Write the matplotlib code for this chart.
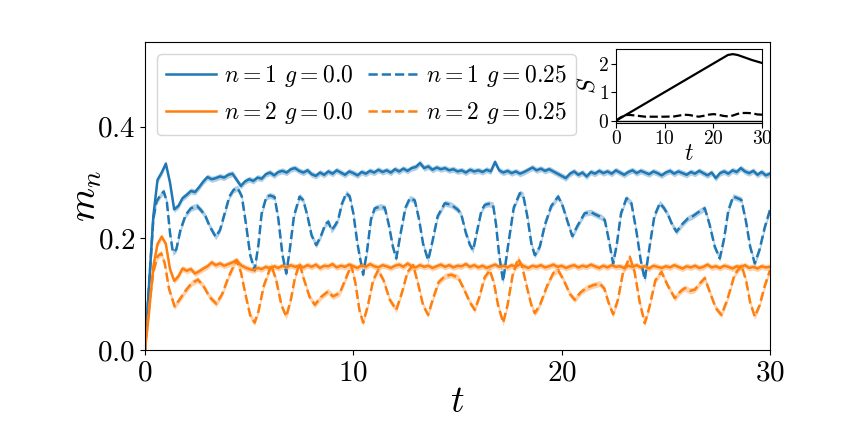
import numpy as np
import matplotlib
matplotlib.use("Agg")
import matplotlib.pyplot as plt
from matplotlib.ticker import FuncFormatter

plt.rcParams['font.family'] = ['cmr10', 'DejaVu Serif']
plt.rcParams['mathtext.fontset'] = 'cm'
plt.rcParams['axes.unicode_minus'] = False
plt.rcParams['axes.formatter.use_mathtext'] = True

# ---------------- data ----------------
# g = 0.0 (solid), sampled every 0.2 in t from 0 to 30
m1_g0 = [0, 0.12, 0.24, 0.305, 0.318, 0.334, 0.30, 0.252, 0.258, 0.272,
         0.278, 0.285, 0.283, 0.292, 0.302, 0.310, 0.306, 0.308, 0.311, 0.309,
         0.314, 0.316, 0.305, 0.294, 0.302, 0.306, 0.303, 0.309, 0.307, 0.315,
         0.318, 0.313, 0.319, 0.321, 0.318, 0.324, 0.326, 0.321,
         0.318, 0.322, 0.315, 0.312, 0.318, 0.314, 0.320, 0.316, 0.322, 0.318,
         0.314, 0.320, 0.317, 0.313, 0.319, 0.316, 0.321, 0.318, 0.323, 0.319,
         0.322, 0.318, 0.324, 0.320, 0.325, 0.321, 0.326, 0.328, 0.335, 0.326,
         0.329, 0.323, 0.327, 0.324, 0.326, 0.322, 0.324, 0.320, 0.322, 0.318,
         0.323, 0.320, 0.322, 0.319, 0.323, 0.320, 0.337, 0.322, 0.318, 0.321,
         0.317, 0.320, 0.316, 0.319, 0.323, 0.327, 0.322, 0.325, 0.321, 0.324,
         0.320, 0.316, 0.312, 0.308, 0.316, 0.320, 0.314, 0.318, 0.311, 0.319,
         0.316, 0.321, 0.317, 0.320, 0.316, 0.322, 0.318, 0.314, 0.319, 0.322,
         0.317, 0.321, 0.318, 0.315, 0.320, 0.317, 0.313, 0.318, 0.321, 0.316,
         0.320, 0.317, 0.314, 0.319, 0.316, 0.321, 0.317, 0.313, 0.318, 0.308,
         0.317, 0.320, 0.316, 0.322, 0.319, 0.326, 0.320, 0.317, 0.321, 0.314,
         0.319, 0.313, 0.316]
m2_g0 = [0, 0.07, 0.15, 0.19, 0.203, 0.19, 0.145, 0.124, 0.132, 0.146,
         0.142, 0.145, 0.137, 0.141, 0.146, 0.150, 0.157, 0.152, 0.155, 0.151,
         0.154, 0.157, 0.161, 0.152, 0.148, 0.145, 0.143, 0.147, 0.145, 0.149,
         0.146, 0.150, 0.147, 0.151, 0.148, 0.152, 0.149, 0.151,
         0.148, 0.152, 0.149, 0.153, 0.147, 0.151, 0.150, 0.154, 0.148, 0.151,
         0.149, 0.153, 0.150, 0.147, 0.152, 0.149, 0.154, 0.150, 0.148, 0.152,
         0.150, 0.147, 0.151, 0.153, 0.149, 0.155, 0.150, 0.148, 0.152, 0.149,
         0.151, 0.147, 0.150, 0.153, 0.149, 0.152, 0.148, 0.151, 0.150, 0.154,
         0.149, 0.152, 0.148, 0.151, 0.147, 0.150, 0.153, 0.149, 0.151, 0.148,
         0.152, 0.149, 0.154, 0.150, 0.147, 0.151, 0.149, 0.152, 0.148, 0.150,
         0.153, 0.149, 0.151, 0.147, 0.150, 0.152, 0.148, 0.151, 0.149, 0.153,
         0.150, 0.147, 0.151, 0.148, 0.152, 0.149, 0.150, 0.147, 0.151, 0.149,
         0.152, 0.148, 0.150, 0.146, 0.151, 0.149, 0.147, 0.150, 0.148, 0.152,
         0.149, 0.146, 0.150, 0.148, 0.151, 0.147, 0.149, 0.153, 0.148, 0.150,
         0.147, 0.151, 0.149, 0.146, 0.150, 0.148, 0.152, 0.147, 0.149, 0.146,
         0.150, 0.148, 0.149]
t_g0 = np.linspace(0, 30, len(m1_g0))
t_g0b = np.linspace(0, 30, len(m2_g0))

# g = 0.25 (dashed), n = 1
t1_g25 = [0, 0.2, 0.4, 0.55, 0.75, 0.9, 1.05, 1.2, 1.34, 1.5, 1.7, 1.95, 2.2, 2.5, 2.7,
          2.9, 3.1, 3.39, 3.6, 3.85, 4.05, 4.25, 4.45, 4.65, 4.85, 5.05, 5.26, 5.45,
          5.6, 5.82, 6.0, 6.22, 6.4, 6.6, 6.78, 6.95, 7.15, 7.42, 7.6, 7.8, 8.0, 8.22,
          8.45, 8.65, 8.8, 8.95, 9.1, 9.27, 9.45, 9.66, 9.83, 10.0, 10.2, 10.47, 10.65,
          10.85, 11.03, 11.3, 11.51, 11.7, 11.9, 12.06, 12.25, 12.5, 12.71, 12.95,
          13.15, 13.35, 13.59, 13.8, 14.05, 14.39, 14.71, 15.03, 15.19, 15.4, 15.6,
          15.75, 15.95, 16.15, 16.31, 16.5, 16.71, 16.85, 17.0, 17.19, 17.4, 17.7,
          17.99, 18.15, 18.35, 18.55, 18.71, 18.95, 19.2, 19.5, 19.83, 20.05, 20.31,
          20.51, 20.75, 21.1, 21.4, 21.67, 21.9, 22.07, 22.25, 22.47, 22.65, 22.85,
          23.11, 23.35, 23.6, 23.8, 23.99, 24.2, 24.45, 24.71, 24.9, 25.11, 25.3,
          25.51, 25.8, 26.07, 26.3, 26.6, 26.87, 27.1, 27.35, 27.59, 27.8, 28.0,
          28.23, 28.45, 28.63, 28.85, 29.05, 29.27, 29.5, 29.75, 30.0]
m1_g25 = [0, 0.12, 0.235, 0.266, 0.278, 0.284, 0.265, 0.21, 0.175, 0.18, 0.215, 0.242,
          0.254, 0.258, 0.25, 0.240, 0.222, 0.203, 0.215, 0.248, 0.275, 0.287, 0.290,
          0.275, 0.225, 0.17, 0.143, 0.19, 0.245, 0.274, 0.277, 0.274, 0.235, 0.17,
          0.137, 0.18, 0.24, 0.275, 0.268, 0.24, 0.205, 0.188, 0.205, 0.225, 0.230,
          0.215, 0.222, 0.233, 0.262, 0.281, 0.275, 0.245, 0.19, 0.135, 0.175, 0.235,
          0.254, 0.257, 0.255, 0.225, 0.185, 0.164, 0.205, 0.255, 0.272, 0.268, 0.235,
          0.19, 0.161, 0.195, 0.240, 0.263, 0.260, 0.251, 0.242, 0.21, 0.188, 0.179,
          0.215, 0.25, 0.260, 0.262, 0.260, 0.225, 0.17, 0.123, 0.18, 0.255, 0.281,
          0.278, 0.24, 0.19, 0.170, 0.185, 0.225, 0.258, 0.275, 0.258, 0.227, 0.204,
          0.222, 0.245, 0.247, 0.242, 0.238, 0.233, 0.2, 0.155, 0.19, 0.245, 0.272,
          0.263, 0.21, 0.16, 0.126, 0.18, 0.24, 0.263, 0.255, 0.242, 0.225, 0.212,
          0.226, 0.236, 0.24, 0.248, 0.254, 0.225, 0.185, 0.164, 0.2, 0.25, 0.275,
          0.272, 0.269, 0.23, 0.185, 0.155, 0.18, 0.22, 0.251]

# g = 0.25 (dashed), n = 2
t2_g25 = [0, 0.2, 0.4, 0.6, 0.78, 0.95, 1.15, 1.42, 1.65, 1.98, 2.25, 2.54, 2.8, 3.1,
          3.42, 3.7, 4.0, 4.38, 4.6, 4.85, 5.05, 5.26, 5.45, 5.7, 6.06, 6.3, 6.55,
          6.78, 7.0, 7.2, 7.42, 7.6, 7.9, 8.15, 8.45, 8.79, 9.02, 9.35, 9.6, 9.9,
          10.1, 10.3, 10.47, 10.7, 10.95, 11.19, 11.45, 11.75, 12.06, 12.35, 12.6,
          12.87, 13.1, 13.35, 13.59, 13.85, 14.1, 14.39, 14.7, 15.03, 15.3, 15.6,
          15.83, 16.05, 16.3, 16.55, 16.75, 16.95, 17.19, 17.4, 17.65, 17.91, 18.1,
          18.35, 18.55, 18.71, 18.95, 19.3, 19.6, 19.83, 20.1, 20.4, 20.63, 20.9,
          21.19, 21.5, 21.83, 22.05, 22.25, 22.47, 22.7, 22.95, 23.27, 23.5, 23.75,
          23.99, 24.2, 24.5, 24.79, 25.1, 25.43, 25.7, 25.91, 26.15, 26.39, 26.6,
          26.87, 27.1, 27.4, 27.67, 27.95, 28.3, 28.63, 28.85, 29.05, 29.27, 29.5,
          29.75, 30.0]
m2_g25 = [0, 0.08, 0.14, 0.168, 0.173, 0.155, 0.11, 0.078, 0.09, 0.108, 0.12, 0.126,
          0.115, 0.095, 0.083, 0.10, 0.13, 0.161, 0.14, 0.095, 0.062, 0.049, 0.07,
          0.115, 0.152, 0.125, 0.08, 0.060, 0.09, 0.13, 0.155, 0.13, 0.095, 0.081,
          0.095, 0.105, 0.096, 0.102, 0.125, 0.152, 0.12, 0.07, 0.049, 0.08, 0.125,
          0.143, 0.125, 0.09, 0.072, 0.105, 0.14, 0.152, 0.12, 0.08, 0.063, 0.095,
          0.122, 0.132, 0.135, 0.130, 0.11, 0.085, 0.072, 0.095, 0.13, 0.143, 0.12,
          0.08, 0.049, 0.08, 0.135, 0.164, 0.15, 0.11, 0.08, 0.066, 0.08, 0.115,
          0.138, 0.143, 0.125, 0.10, 0.090, 0.103, 0.111, 0.116, 0.119, 0.11, 0.085,
          0.064, 0.09, 0.14, 0.167, 0.14, 0.085, 0.048, 0.075, 0.125, 0.140, 0.115,
          0.093, 0.105, 0.111, 0.106, 0.108, 0.118, 0.129, 0.105, 0.075, 0.063, 0.09,
          0.135, 0.152, 0.125, 0.085, 0.060, 0.08, 0.115, 0.143]

band = 0.0055  # half-width of the shaded uncertainty band

# inset: entropy S(t)
tS_g0 = [0, 2, 4, 6, 8, 10, 12, 14, 16, 18, 20, 21, 22, 23, 24, 25, 26, 27, 28, 29, 30]
S_g0 = [0, 0.2, 0.4, 0.6, 0.8, 1.0, 1.2, 1.4, 1.6, 1.8, 2.0, 2.1, 2.2, 2.3, 2.33,
        2.3, 2.24, 2.18, 2.12, 2.07, 2.02]
tS_g25 = [0, 1, 2, 3, 4, 5, 6, 8, 10, 12, 13, 14, 15, 16, 17, 18, 19, 20, 21, 22, 23,
          24, 25, 26, 27, 28, 29, 30]
S_g25 = [0, 0.12, 0.2, 0.2, 0.18, 0.16, 0.14, 0.14, 0.14, 0.15, 0.18, 0.21, 0.2, 0.17,
         0.14, 0.17, 0.21, 0.23, 0.21, 0.17, 0.15, 0.18, 0.24, 0.27, 0.27, 0.26, 0.22,
         0.21]
tS_zero = [0, 30]
S_zero = [0, 0]

labels = [r'$n=1$ $g=$0.0', r'$n=1$ $g=$0.25', r'$n=2$ $g=$0.0', r'$n=2$ $g=$0.25']

# ---------------- plot ----------------
blue, orange = '#1f77b4', '#ff7f0e'
fig = plt.figure(figsize=(8.56, 4.26), dpi=100)
ax = fig.add_axes([0.1694, 0.1784, 0.7301, 0.7230])

def draw(t, m, color, ls, label):
    t = np.asarray(t); m = np.asarray(m)
    ax.fill_between(t, m - band, m + band, color=color, alpha=0.35, lw=0)
    return ax.plot(t, m, color=color, ls=ls, lw=1.8, label=label)[0]

h1 = draw(t_g0, m1_g0, blue, '-', labels[0])
h2 = draw(t1_g25, m1_g25, blue, '--', labels[1])
h3 = draw(t_g0b, m2_g0, orange, '-', labels[2])
h4 = draw(t2_g25, m2_g25, orange, '--', labels[3])

ax.set_xlim(0, 30)
ax.set_ylim(0, 0.552)
ax.set_xticks([0, 10, 20, 30])
ax.set_yticks([0, 0.2, 0.4])
ax.xaxis.set_major_formatter(FuncFormatter(lambda v, p: f'${v:.0f}$'))
ax.yaxis.set_major_formatter(FuncFormatter(lambda v, p: f'${v:.1f}$'))
ax.tick_params(labelsize=21)
ax.set_xlabel(r'$t$', fontsize=27, labelpad=0)
ax.set_ylabel(r'$m_n$', fontsize=28, labelpad=-5)

leg = ax.legend(handles=[h1, h3, h2, h4], ncol=2, loc='upper left', fontsize=17,
                columnspacing=0.6, handletextpad=0.35, labelspacing=0.45,
                handlelength=2.1)
for l in leg.get_lines():
    l.set_linewidth(1.8)

ins = fig.add_axes([0.7196, 0.7113, 0.1706, 0.1744])
ins.plot(tS_g0, S_g0, color='k', lw=1.6)
ins.plot(tS_g25, S_g25, color='k', lw=1.6, ls='--')
ins.plot(tS_zero, S_zero, color='k', lw=1.0)
ins.set_xlim(0, 30)
ins.set_ylim(-0.08, 2.52)
ins.set_xticks([0, 10, 20, 30])
ins.set_yticks([0, 1, 2])
ins.xaxis.set_major_formatter(FuncFormatter(lambda v, p: f'${v:.0f}$'))
ins.yaxis.set_major_formatter(FuncFormatter(lambda v, p: f'${v:.0f}$'))
ins.tick_params(labelsize=14, pad=1.5)
ins.set_xlabel(r'$t$', fontsize=17, labelpad=-4)
ins.set_ylabel(r'$S$', fontsize=17, labelpad=-1)

fig.savefig('out.png', dpi=100)
